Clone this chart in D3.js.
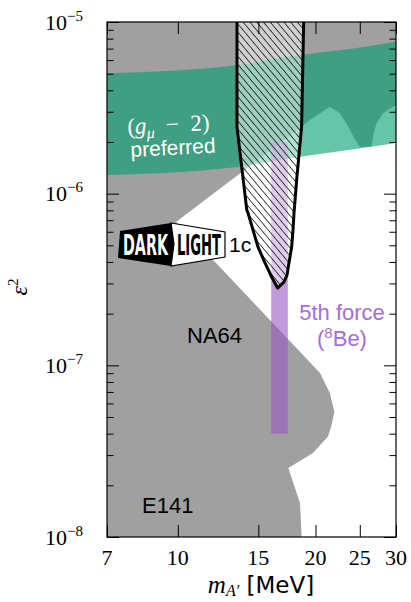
<!DOCTYPE html>
<html>
<head>
<meta charset="utf-8">
<script src="https://cdn.jsdelivr.net/npm/d3@7"></script>
<style>
  html, body { margin: 0; padding: 0; background: #fff; }
  svg { display: block; }
</style>
</head>
<body>
<svg id="chart" width="411" height="602"></svg>
<script>
// ---- data ----------------------------------------------------------------
const massTicks = [7, 10, 15, 20, 25, 30];
const massTickLabels = ["7", "10", "15", "20", "25", "30"];
const epsMajorTicks = [1e-8, 1e-7, 1e-6, 1e-5];
const epsMajorExponents = ["−8", "−7", "−6", "−5"];

// excluded region (beam dumps, NA64, E141 ...) as one closed outline
const excludedMass = [7, 30, 30, 28.1, 27.2, 26.8, 26.5, 25.0, 24.2, 23.6, 22.6, 21.5, 20.46, 19.45, 18.65,
  9.91, 12.06, 18.5, 20.46, 21.5, 21.99, 21.7, 21.3, 19.75, 17.44, 18.5, 18.65, 7];
const excludedEps = [1e-5, 1e-5, 3.29e-6, 2.94e-6, 2.57e-6, 2.25e-6, 1.88e-6, 1.87e-6, 2.15e-6, 2.46e-6, 2.94e-6, 3.21e-6, 2.94e-6, 2.69e-6, 2.46e-6,
  6.84e-7, 4.0e-7, 1.2e-7, 9.03e-8, 6.91e-8, 5.38e-8, 4.5e-8, 3.85e-8, 3.09e-8, 2.52e-8, 1.58e-8, 1e-8, 1e-8];

// (g_mu - 2) preferred band
const gm2Mass = [7, 13.47, 18.5, 23.8, 30];
const gm2Upper = [5.03e-6, 5.62e-6, 6.42e-6, 6.97e-6, 7.68e-6];
const gm2Lower = [1.285e-6, 1.43e-6, 1.64e-6, 1.80e-6, 1.97e-6];

// 8Be anomaly ("5th force") band
const beMass = [16.0, 17.4];
const beEps = [4e-8, 2e-6];

// DarkLight phase 1c projected reach (closed contour)
const reachMass = [13.47, 13.47, 14.15, 14.24, 14.6, 14.97, 15.51, 16.04, 16.53,
  17.07, 17.33, 17.5, 17.74, 17.86, 17.95, 18.19, 18.65, 18.88];
const reachEps = [1.3e-5, 2.45e-6, 8.04e-7, 7.72e-7, 6.15e-7, 4.9e-7, 3.95e-7, 3.27e-7, 2.82e-7,
  3.06e-7, 3.36e-7, 3.95e-7, 4.9e-7, 6.15e-7, 7.72e-7, 1.2e-6, 2.45e-6, 1.3e-5];

// ---- layout --------------------------------------------------------------
const svg = d3.select("#chart");
const L = 107, R = 396, T = 22, B = 537;
const serif = "'Liberation Serif', 'DejaVu Serif', serif";
const sans = "'Liberation Sans', 'DejaVu Sans', sans-serif";
const condensed = "'DejaVu Sans Condensed', 'DejaVu Sans', sans-serif";

const x = d3.scaleLog().domain([7, 30]).range([L, R]);
const y = d3.scaleLog().domain([1e-8, 1e-5]).range([B, T]);

const defs = svg.append("defs");
defs.append("clipPath").attr("id", "plotClip")
  .append("rect").attr("x", L).attr("y", T).attr("width", R - L).attr("height", B - T);

const hatch = defs.append("pattern").attr("id", "hatch")
  .attr("patternUnits", "userSpaceOnUse").attr("width", 5.2).attr("height", 10)
  .attr("patternTransform", "rotate(-40)");
hatch.append("line").attr("x1", 0).attr("y1", 0).attr("x2", 0).attr("y2", 10)
  .attr("stroke", "#000").attr("stroke-width", 1.4);

const plot = svg.append("g").attr("clip-path", "url(#plotClip)");

// excluded region
const excludedPts = excludedMass.map((m, i) => [x(m), y(excludedEps[i])]);
plot.append("path")
  .attr("d", d3.line().curve(d3.curveLinearClosed)(excludedPts))
  .attr("fill", "#a0a0a0");

// g-2 band
const bandArea = d3.area()
  .x((d, i) => x(gm2Mass[i]))
  .y0((d, i) => y(gm2Lower[i]))
  .y1((d, i) => y(gm2Upper[i]))
  .curve(d3.curveMonotoneX);
plot.append("path")
  .attr("d", bandArea(gm2Mass))
  .attr("fill", "rgb(0,157,110)").attr("fill-opacity", 0.6);

// 8Be band
plot.append("rect")
  .attr("x", x(beMass[0])).attr("width", x(beMass[1]) - x(beMass[0]))
  .attr("y", y(beEps[1])).attr("height", y(beEps[0]) - y(beEps[1]))
  .attr("fill", "rgb(152,87,195)").attr("fill-opacity", 0.6);

// DarkLight reach
const reachPts = reachMass.map((m, i) => [x(m), y(reachEps[i])]);
const reachPath = d3.line().curve(d3.curveLinearClosed)(reachPts);
plot.append("path").attr("d", reachPath).attr("fill", "#fff").attr("fill-opacity", 0.5);
plot.append("path").attr("d", reachPath).attr("fill", "url(#hatch)");
plot.append("path").attr("d", reachPath).attr("fill", "none")
  .attr("stroke", "#000").attr("stroke-width", 3).attr("stroke-linejoin", "round");

// ---- labels inside the plot ---------------------------------------------
const gm2Label = svg.append("g").attr("transform", "rotate(-3, 170, 140)");
const gt = gm2Label.append("text").attr("x", 128).attr("y", 132)
  .attr("font-family", serif).attr("font-size", 23).attr("fill", "#fff");
gt.append("tspan").text("(");
gt.append("tspan").attr("font-style", "italic").text("g");
gt.append("tspan").attr("font-style", "italic").attr("font-size", 16).attr("dy", 5).text("μ");
gt.append("tspan").attr("dy", -5).text("\u2002−\u20022)");
gm2Label.append("text").attr("x", 130).attr("y", 155)
  .attr("font-family", sans).attr("font-size", 21).attr("fill", "#fff").text("preferred");

svg.append("text").attr("x", 187).attr("y", 343)
  .attr("font-family", sans).attr("font-size", 22).attr("fill", "#000").text("NA64");
svg.append("text").attr("x", 142).attr("y", 513)
  .attr("font-family", sans).attr("font-size", 22).attr("fill", "#000").text("E141");

const fifth = svg.append("g").attr("fill", "#a66dd4").attr("font-family", sans)
  .attr("font-size", 22).attr("text-anchor", "middle");
fifth.append("text").attr("x", 342).attr("y", 320).text("5th force");
const be = fifth.append("text").attr("x", 342).attr("y", 346);
be.append("tspan").text("(");
be.append("tspan").attr("font-size", 15).attr("dy", -8).text("8");
be.append("tspan").attr("dy", 8).text("Be)");

// DarkLight logo
const logo = svg.append("g");
logo.append("path").attr("d", "M171,223 L225,232 L225,257 L171,266 L174,244 Z")
  .attr("fill", "#fff").attr("stroke", "#000").attr("stroke-width", 1.2);
logo.append("path").attr("d", "M120,231 L171,223 L174,244 L171,266 L118,258 Z")
  .attr("fill", "#000");
logo.append("text").attr("transform", "translate(123,255) scale(1,1.7)")
  .attr("font-family", condensed).attr("font-weight", "bold")
  .attr("font-size", 17).attr("fill", "#fff")
  .attr("textLength", 45).attr("lengthAdjust", "spacingAndGlyphs").text("DARK");
logo.append("text").attr("transform", "translate(177,255) scale(1,1.7)")
  .attr("font-family", condensed).attr("font-weight", "bold")
  .attr("font-size", 17).attr("fill", "#000")
  .attr("textLength", 44).attr("lengthAdjust", "spacingAndGlyphs").text("LIGHT");
svg.append("text").attr("x", 229).attr("y", 252)
  .attr("font-family", sans).attr("font-size", 21).attr("fill", "#000").text("1c");

// ---- axes ----------------------------------------------------------------
const epsMinor = [];
[1e-8, 1e-7, 1e-6].forEach(d => { for (let k = 2; k <= 9; k++) epsMinor.push(d * k); });

function styleAxis(g) {
  g.select(".domain").remove();
  g.selectAll(".tick line").attr("stroke", "#000").attr("stroke-width", 1);
}
svg.append("g").attr("transform", `translate(0,${B})`)
  .call(d3.axisBottom(x).tickValues(massTicks).tickSize(-12).tickFormat("")).call(styleAxis);
svg.append("g").attr("transform", `translate(0,${T})`)
  .call(d3.axisTop(x).tickValues(massTicks).tickSize(-12).tickFormat("")).call(styleAxis);
svg.append("g").attr("transform", `translate(${L},0)`)
  .call(d3.axisLeft(y).tickValues(epsMajorTicks).tickSize(-12).tickFormat("")).call(styleAxis);
svg.append("g").attr("transform", `translate(${L},0)`)
  .call(d3.axisLeft(y).tickValues(epsMinor).tickSize(-6.5).tickFormat("")).call(styleAxis);
svg.append("g").attr("transform", `translate(${R},0)`)
  .call(d3.axisRight(y).tickValues(epsMajorTicks).tickSize(-12).tickFormat("")).call(styleAxis);
svg.append("g").attr("transform", `translate(${R},0)`)
  .call(d3.axisRight(y).tickValues(epsMinor).tickSize(-6.5).tickFormat("")).call(styleAxis);

svg.append("rect").attr("x", L).attr("y", T).attr("width", R - L).attr("height", B - T)
  .attr("fill", "none").attr("stroke", "#000").attr("stroke-width", 1.2);

// tick labels
svg.append("g").selectAll("text").data(massTicks).join("text")
  .attr("x", d => x(d)).attr("y", 565)
  .attr("text-anchor", "middle").attr("font-family", serif).attr("font-size", 22)
  .text((d, i) => massTickLabels[i]);

const yl = svg.append("g").selectAll("text").data(epsMajorTicks).join("text")
  .attr("x", 83).attr("y", d => y(d) + 7.5)
  .attr("text-anchor", "end").attr("font-family", serif).attr("font-size", 22);
yl.append("tspan").text("10");
yl.append("tspan").attr("font-size", 15).attr("dy", -9).text((d, i) => epsMajorExponents[i]);

// axis titles
const xt = svg.append("text").attr("x", 261).attr("y", 593).attr("text-anchor", "middle");
xt.append("tspan").attr("font-family", serif).attr("font-style", "italic").attr("font-size", 25).text("m");
xt.append("tspan").attr("font-family", serif).attr("font-style", "italic").attr("font-size", 16).attr("dy", 3).text("A′");
xt.append("tspan").attr("font-family", "'DejaVu Sans', sans-serif").attr("font-size", 23).attr("dy", -3).text(" [MeV]");

const ytl = svg.append("text").attr("transform", "translate(27,287) rotate(-90)")
  .attr("text-anchor", "middle").attr("font-family", serif).attr("font-size", 24);
ytl.append("tspan").attr("font-style", "italic").text("ε");
ytl.append("tspan").attr("font-size", 15).attr("dy", -9).text("2");
</script>
</body>
</html>
